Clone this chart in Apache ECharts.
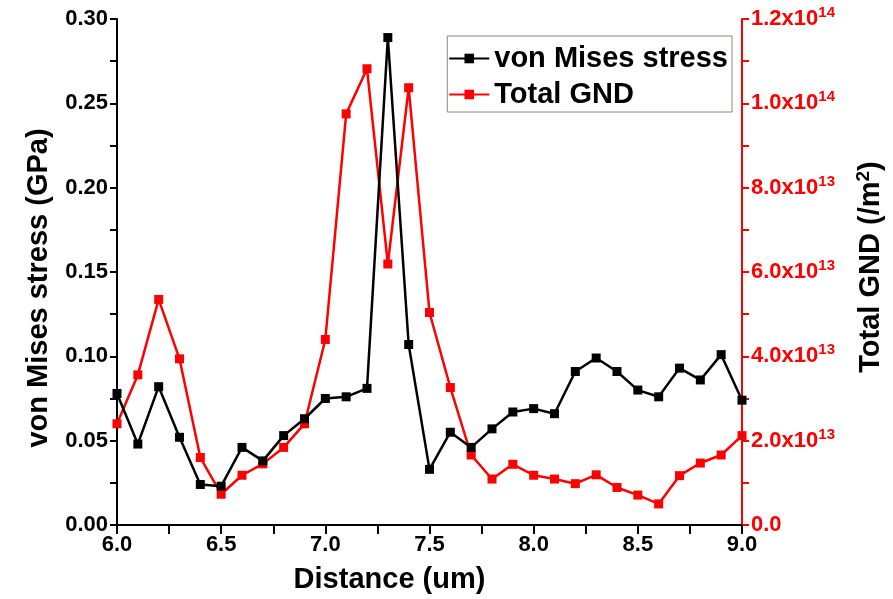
<!DOCTYPE html>
<html>
<head>
<meta charset="utf-8">
<script src="https://cdn.jsdelivr.net/npm/echarts@6/dist/echarts.min.js"></script>
<style>
  html, body { margin: 0; padding: 0; background: #fff; }
  #chart { width: 893px; height: 599px; }
</style>
</head>
<body>
<div id="chart"></div>
<script>
var distance = [6.0, 6.1, 6.2, 6.3, 6.4, 6.5, 6.6, 6.7, 6.8, 6.9, 7.0, 7.1, 7.2, 7.3, 7.4, 7.5,
  7.6, 7.7, 7.8, 7.9, 8.0, 8.1, 8.2, 8.3, 8.4, 8.5, 8.6, 8.7, 8.8, 8.9, 9.0];
var stress = [0.078, 0.048, 0.082, 0.052, 0.024, 0.023, 0.046, 0.038, 0.053, 0.063, 0.075, 0.076, 0.081, 0.289, 0.107, 0.033,
  0.055, 0.046, 0.057, 0.067, 0.069, 0.066, 0.091, 0.099, 0.091, 0.080, 0.076, 0.093, 0.086, 0.101, 0.074];
// GND in units of 1e13 /m^2
var gnd = [2.40, 3.56, 5.35, 3.94, 1.60, 0.73, 1.18, 1.45, 1.84, 2.40, 4.40, 9.75, 10.82, 6.19, 10.37, 5.04,
  3.26, 1.66, 1.09, 1.44, 1.18, 1.09, 0.98, 1.19, 0.89, 0.71, 0.50, 1.17, 1.47, 1.66, 2.12];
var seriesNames = ['von Mises stress', 'Total GND'];

function pairs(xs, ys, scale) {
  return xs.map(function(x, i) { return [x, ys[i] * scale]; });
}

var FONT = 'Liberation Sans';
var chart = echarts.init(document.getElementById('chart'));

var option = {
  backgroundColor: '#fff',
  animation: false,
  grid: { left: 117, right: 150, top: 19, bottom: 74 },
  legend: {
    right: 161, top: 36,
    orient: 'vertical',
    itemWidth: 40, itemHeight: 12, itemGap: 7,
    padding: [8, 4, 3, 1],
    borderColor: '#8a8a70', borderWidth: 1,
    backgroundColor: '#fff',
    textStyle: { fontFamily: FONT, fontWeight: 'bold', fontSize: 29, color: '#000' },
    data: seriesNames
  },
  xAxis: [{
    type: 'value', min: 6, max: 9, interval: 0.5,
    name: 'Distance (um)', nameLocation: 'middle', nameGap: 40,
    nameTextStyle: { fontFamily: FONT, fontWeight: 'bold', fontSize: 29, color: '#000', padding: [0, 80, 0, 0] },
    axisLine: { lineStyle: { color: '#000', width: 2 } },
    axisTick: { inside: false, length: 7, lineStyle: { color: '#000', width: 2 } },
    minorTick: { show: true, splitNumber: 2, length: 7, lineStyle: { color: '#000', width: 2 } },
    axisLabel: { fontFamily: FONT, fontWeight: 'bold', fontSize: 22, color: '#000', margin: 9,
      formatter: function(v) { return v.toFixed(1); } },
    splitLine: { show: false }
  }, {
    type: 'value', min: 6, max: 9, interval: 0.5, position: 'top',
    axisLine: { lineStyle: { color: '#000', width: 2 } },
    axisTick: { inside: true, length: 9, lineStyle: { color: '#000', width: 2 } },
    minorTick: { show: true, splitNumber: 2, length: 9, lineStyle: { color: '#000', width: 2 } },
    axisLabel: { show: false },
    splitLine: { show: false }
  }],
  yAxis: [{
    type: 'value', min: 0, max: 0.3, interval: 0.05,
    name: 'von Mises stress (GPa)', nameLocation: 'middle', nameGap: 64,
    nameTextStyle: { fontFamily: FONT, fontWeight: 'bold', fontSize: 29, color: '#000', padding: [0, 32, 0, 0] },
    axisLine: { show: true, lineStyle: { color: '#000', width: 2 } },
    axisTick: { inside: false, length: 7, lineStyle: { color: '#000', width: 2 } },
    minorTick: { show: true, splitNumber: 2, length: 7, lineStyle: { color: '#000', width: 2 } },
    axisLabel: { fontFamily: FONT, fontWeight: 'bold', fontSize: 22, color: '#000', margin: 9,
      formatter: function(v) { return v.toFixed(2); } },
    splitLine: { show: false }
  }, {
    type: 'value', min: 0, max: 12e13, interval: 2e13, position: 'right',
    name: 'Total GND (/m{s|2})', nameLocation: 'middle', nameGap: 112, nameRotate: 90,
    nameTextStyle: { fontFamily: FONT, fontWeight: 'bold', fontSize: 29, color: '#000', padding: [0, 0, 0, 10],
      rich: { s: { fontFamily: FONT, fontWeight: 'bold', fontSize: 19, color: '#000', padding: [0, 0, 14, 0] } } },
    axisLine: { show: true, lineStyle: { color: '#ff0000', width: 2 } },
    axisTick: { inside: false, length: 7, lineStyle: { color: '#ff0000', width: 2 } },
    minorTick: { show: true, splitNumber: 2, length: 7, lineStyle: { color: '#ff0000', width: 2 } },
    axisLabel: {
      margin: 9,
      formatter: function(v) {
        if (v === 0) return '{a|0.0}';
        var e = Math.floor(Math.log10(v) + 1e-9);
        var m = v / Math.pow(10, e);
        return '{a|' + m.toFixed(1) + 'x10}{s|' + e + '}';
      },
      rich: {
        a: { fontFamily: FONT, fontWeight: 'bold', fontSize: 22, color: '#ff0000' },
        s: { fontFamily: FONT, fontWeight: 'bold', fontSize: 15, color: '#ff0000', padding: [0, 0, 12, 0] }
      }
    },
    splitLine: { show: false }
  }],
  series: [{
    name: seriesNames[0], type: 'line', xAxisIndex: 0, yAxisIndex: 0,
    data: pairs(distance, stress, 1),
    symbol: 'rect', symbolSize: 9,
    itemStyle: { color: '#000' },
    lineStyle: { color: '#000', width: 2.5 },
    z: 3
  }, {
    name: seriesNames[1], type: 'line', xAxisIndex: 0, yAxisIndex: 1,
    data: pairs(distance, gnd, 1e13),
    symbol: 'rect', symbolSize: 9,
    itemStyle: { color: '#ff0000' },
    lineStyle: { color: '#ff0000', width: 2.5 },
    z: 2
  }]
};

chart.setOption(option);
</script>
</body>
</html>
